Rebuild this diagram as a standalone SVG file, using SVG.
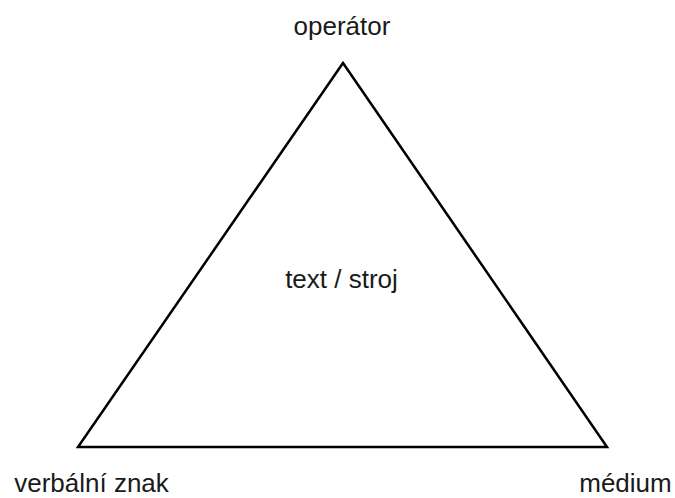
<svg xmlns="http://www.w3.org/2000/svg" width="675" height="498" viewBox="0 0 675 498">
<style>
.lbl{font-family:"Liberation Sans",Arial,sans-serif;font-size:26px;fill:#1a1a1a;text-anchor:middle}
.edge{fill:none;stroke:#000;stroke-width:2.5;stroke-linejoin:miter}
</style>
<rect width="675" height="498" fill="#fff"/>
<g id="connectors">
<polygon class="edge" points="343,63 607,447 78,447"/>
</g>
<g id="node-operator"><text class="lbl" x="342" y="35">operátor</text></g>
<g id="node-text-stroj"><text class="lbl" x="341.5" y="288">text / stroj</text></g>
<g id="node-verbalni-znak"><text class="lbl" x="91.5" y="492">verbální znak</text></g>
<g id="node-medium"><text class="lbl" x="625.5" y="492">médium</text></g>
</svg>
